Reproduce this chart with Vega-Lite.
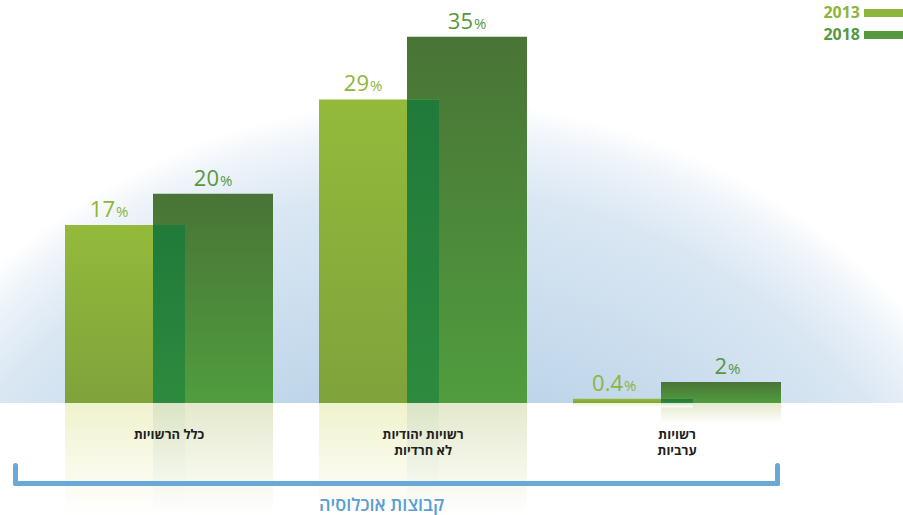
{
  "$schema": "https://vega.github.io/schema/vega-lite/v6.json",
  "width": 903,
  "height": 403,
  "autosize": {"type": "none"},
  "padding": {"left": 0, "top": 0, "right": 0, "bottom": 112},
  "background": "white",
  "config": {
    "font": "Open Sans",
    "view": {
      "stroke": null,
      "fill": {
        "gradient": "radial",
        "x1": 0.476, "y1": 1.107, "r1": 0,
        "x2": 0.476, "y2": 1.107, "r2": 0.72,
        "stops": [
          {"offset": 0, "color": "#aecbe5"},
          {"offset": 0.54, "color": "#bcd4e9"},
          {"offset": 0.86, "color": "#dae7f3"},
          {"offset": 0.95, "color": "#eef4fa"},
          {"offset": 1, "color": "#ffffff"}
        ]
      }
    }
  },
  "data": {
    "values": [
      {"group": "כלל הרשויות", "year": "2013", "value": 17},
      {"group": "כלל הרשויות", "year": "2018", "value": 20},
      {"group": "רשויות יהודיות לא חרדיות", "year": "2013", "value": 29},
      {"group": "רשויות יהודיות לא חרדיות", "year": "2018", "value": 35},
      {"group": "רשויות ערביות", "year": "2013", "value": 0.4},
      {"group": "רשויות ערביות", "year": "2018", "value": 2}
    ]
  },
  "layer": [
    {
      "encoding": {
        "x": {
          "field": "group",
          "type": "nominal",
          "sort": null,
          "scale": {"range": [42, 804], "paddingInner": 0, "paddingOuter": 0},
          "axis": {
            "title": null,
            "domain": false,
            "ticks": false,
            "labelAngle": 0,
            "labelPadding": 25,
            "labelBaseline": "top",
            "labelFontSize": 13,
            "labelFontWeight": "bold",
            "labelColor": "#231f20",
            "labelLineHeight": 16,
            "labelExpr": "datum.value == 'רשויות ערביות' ? ['רשויות', 'ערביות'] : datum.value == 'רשויות יהודיות לא חרדיות' ? ['רשויות יהודיות', 'לא חרדיות'] : datum.label",
            "zindex": 2
          }
        },
        "y": {
          "field": "value",
          "type": "quantitative",
          "scale": {"domain": [0, 38.5], "nice": false},
          "axis": null
        }
      },
      "layer": [
        {
          "transform": [{"filter": "datum.year == '2018'"}],
          "mark": {
            "type": "bar", "width": 120, "xOffset": 44,
            "fill": {
              "gradient": "linear", "x1": 0, "y1": 0, "x2": 0, "y2": 1,
              "stops": [{"offset": 0, "color": "#497436"}, {"offset": 1, "color": "#509d3e"}]
            }
          }
        },
        {
          "transform": [{"filter": "datum.year == '2013'"}],
          "mark": {
            "type": "bar", "width": 120, "xOffset": -44,
            "fill": {
              "gradient": "linear", "x1": 0, "y1": 0, "x2": 0, "y2": 1,
              "stops": [{"offset": 0, "color": "#94ba3b"}, {"offset": 1, "color": "#7fa33b"}]
            }
          }
        },
        {
          "transform": [{"filter": "datum.year == '2013'"}],
          "mark": {
            "type": "bar", "width": 32, "xOffset": 0,
            "fill": {
              "gradient": "linear", "x1": 0, "y1": 0, "x2": 0, "y2": 1,
              "stops": [{"offset": 0, "color": "#207a3a"}, {"offset": 1, "color": "#2d8b3e"}]
            }
          }
        },
        {
          "transform": [{"filter": "datum.year == '2013'"}],
          "mark": {"type": "text", "align": "right", "baseline": "alphabetic", "dy": -8, "xOffset": -54, "fontSize": 22},
          "encoding": {
            "text": {"field": "value", "type": "quantitative", "format": ".1~f"},
            "color": {
              "field": "year", "type": "nominal",
              "scale": {"domain": ["2013", "2018"], "range": ["#8db53b", "#57983f"]},
              "legend": {
                "orient": "none", "legendX": 876, "legendY": 5, "title": null,
                "symbolType": "M-4,-0.8L4,-0.8L4,0.8L-4,0.8Z", "symbolSize": 100,
                "symbolStrokeWidth": 0, "symbolOpacity": 1,
                "labelAlign": "right", "labelOffset": -32,
                "labelFontSize": 16, "labelFontWeight": "bold",
                "labelColor": {"expr": "datum.value == '2013' ? '#8db53b' : '#57983f'"},
                "rowPadding": 6
              }
            }
          }
        },
        {
          "transform": [{"filter": "datum.year == '2013'"}],
          "mark": {"type": "text", "align": "left", "baseline": "alphabetic", "dy": -8, "xOffset": -53, "fontSize": 15, "text": "%"},
          "encoding": {"color": {"field": "year", "type": "nominal"}}
        },
        {
          "transform": [{"filter": "datum.year == '2018'"}],
          "mark": {"type": "text", "align": "right", "baseline": "alphabetic", "dy": -8, "xOffset": 50, "fontSize": 22},
          "encoding": {
            "text": {"field": "value", "type": "quantitative", "format": ".1~f"},
            "color": {"field": "year", "type": "nominal"}
          }
        },
        {
          "transform": [{"filter": "datum.year == '2018'"}],
          "mark": {"type": "text", "align": "left", "baseline": "alphabetic", "dy": -8, "xOffset": 51, "fontSize": 15, "text": "%"},
          "encoding": {"color": {"field": "year", "type": "nominal"}}
        }
      ]
    },
    {
      "encoding": {
        "x": {
          "field": "group",
          "type": "nominal",
          "sort": null,
          "scale": {"range": [42, 804], "paddingInner": 0, "paddingOuter": 0},
          "axis": null
        },
        "y": {
          "field": "value",
          "type": "quantitative",
          "scale": {"domain": [0, 10.7], "range": [403, 515], "clamp": true, "nice": false},
          "axis": null
        }
      },
      "layer": [
        {
          "transform": [{"filter": "datum.year == '2018'"}],
          "mark": {
            "type": "bar", "width": 120, "xOffset": 44,
            "fill": {
              "gradient": "linear", "x1": 0, "y1": 0, "x2": 0, "y2": 1,
              "stops": [{"offset": 0, "color": "#e4e9cc"}, {"offset": 1, "color": "#ffffff"}]
            }
          }
        },
        {
          "transform": [{"filter": "datum.year == '2013'"}],
          "mark": {
            "type": "bar", "width": 120, "xOffset": -44,
            "fill": {
              "gradient": "linear", "x1": 0, "y1": 0, "x2": 0, "y2": 1,
              "stops": [{"offset": 0, "color": "#f0f2cd"}, {"offset": 1, "color": "#ffffff"}]
            }
          }
        },
        {
          "transform": [{"filter": "datum.year == '2013'"}],
          "mark": {
            "type": "bar", "width": 32, "xOffset": 0,
            "fill": {
              "gradient": "linear", "x1": 0, "y1": 0, "x2": 0, "y2": 1,
              "stops": [{"offset": 0, "color": "#dbe4c5"}, {"offset": 1, "color": "#ffffff"}]
            }
          }
        }
      ]
    },
    {
      "mark": {"type": "text", "text": ""},
      "encoding": {
        "x": {
          "datum": "קבוצות אוכלוסיה",
          "type": "nominal",
          "scale": {"range": [15, 777], "paddingInner": 0, "paddingOuter": 0},
          "axis": {
            "orient": "bottom",
            "offset": 80,
            "domainColor": "#6aa9d5",
            "domainWidth": 5,
            "domainCap": "round",
            "ticks": true,
            "tickBand": "extent",
            "tickSize": -18,
            "tickWidth": 5,
            "tickColor": "#6aa9d5",
            "tickCap": "round",
            "labels": false,
            "title": "קבוצות אוכלוסיה",
            "titleColor": "#5a9fd3",
            "titleFontSize": 18,
            "titleFontWeight": 600,
            "titleX": 381,
            "titleY": 27,
            "titleAlign": "center",
            "titleBaseline": "alphabetic",
            "zindex": 2
          }
        }
      }
    }
  ],
  "resolve": {"scale": {"x": "independent", "y": "independent"}}
}
